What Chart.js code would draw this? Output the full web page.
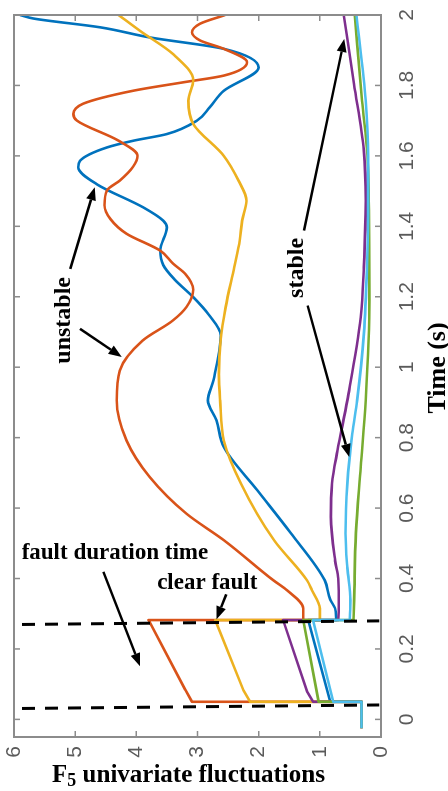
<!DOCTYPE html>
<html>
<head>
<meta charset="utf-8">
<script src="https://cdn.jsdelivr.net/npm/chart.js@4.4.1/dist/chart.umd.min.js"></script>
<style>
  html, body { margin: 0; padding: 0; background: #fff; }
  #wrap { position: relative; width: 448px; height: 791px; overflow: hidden; }
  /* the figure is a time plot turned a quarter turn to the left */
  #chart { position: absolute; left: 0; top: 0; transform-origin: 0 0; transform: translateY(791px) rotate(-90deg); }
</style>
</head>
<body>
<div id="wrap"><canvas id="chart" width="791" height="448"></canvas></div>
<script>
// axis ticks
const timeTicks = [0, 0.2, 0.4, 0.6, 0.8, 1, 1.2, 1.4, 1.6, 1.8, 2];
const f5Ticks = [0, 1, 2, 3, 4, 5, 6];

// [time, F5] before the fault, same for every case
const preFault = [[-0.025, 0.32], [0.05, 0.32]];

// [time, F5] during the fault (0.05 s .. 0.282 s)
const faultBlue = [[0.05, 0.83], [0.282, 1.19]];
const faultOrange = [[0.05, 3.09], [0.084, 3.20], [0.282, 3.80]];
const faultYellow = [[0.05, 2.14], [0.083, 2.25], [0.282, 2.71]];
const faultPurple = [[0.05, 1.11], [0.08, 1.21], [0.282, 1.60]];
const faultGreen = [[0.05, 1.02], [0.282, 1.27]];
const faultCyan = [[0.05, 0.78], [0.282, 1.11]];

// [time, F5] after the fault is cleared
const postBlue = [[0.282,0.73],[0.315,0.75],[0.34,0.83],[0.395,0.92],[0.53,1.48],[0.65,2.02],[0.773,2.57],[0.849,2.69],[0.906,2.83],[0.963,2.74],[1.09,2.62],[1.15,2.82],[1.199,3.07],[1.25,3.38],[1.29,3.56],[1.331,3.61],[1.397,3.50],[1.416,3.56],[1.454,3.89],[1.52,4.65],[1.568,4.95],[1.586,4.92],[1.624,4.48],[1.643,4.05],[1.662,3.50],[1.70,3.01],[1.738,2.80],[1.785,2.57],[1.851,2.0],[1.904,2.57],[1.936,3.77],[1.965,4.59],[1.99,5.68],[2.0,5.9]];
const postOrange = [[0.282,1.27],[0.315,1.27],[0.367,1.54],[0.395,1.76],[0.509,2.57],[0.584,3.18],[0.688,3.78],[0.792,4.16],[0.906,4.32],[0.99,4.27],[1.075,3.9],[1.133,3.40],[1.171,3.18],[1.22,3.07],[1.265,3.2],[1.294,3.40],[1.331,3.61],[1.379,4.16],[1.42,4.42],[1.46,4.52],[1.502,4.48],[1.53,4.27],[1.57,4.05],[1.6,3.98],[1.644,4.3],[1.70,4.97],[1.719,5.03],[1.748,4.87],[1.785,4.05],[1.809,3.23],[1.828,2.57],[1.866,2.19],[1.904,2.57],[1.928,2.96],[1.951,3.09],[1.975,2.96],[2.0,2.55]];
const postYellow = [[0.282,1.0],[0.315,1.0],[0.367,1.13],[0.395,1.21],[0.509,1.75],[0.67,2.29],[0.792,2.57],[0.906,2.63],[0.98,2.65],[1.08,2.62],[1.17,2.54],[1.284,2.40],[1.36,2.31],[1.416,2.27],[1.472,2.2],[1.53,2.33],[1.6,2.57],[1.691,3.07],[1.757,3.15],[1.814,3.07],[1.889,3.40],[1.955,3.94],[2.0,4.29]];
const postPurple = [[0.282,0.70],[0.315,0.69],[0.40,0.70],[0.45,0.75],[0.575,0.82],[0.67,0.80],[0.764,0.71],[0.906,0.55],[1.142,0.33],[1.284,0.28],[1.472,0.25],[1.615,0.28],[1.804,0.44],[2.0,0.61]];
const postGreen = [[0.282,0.45],[0.338,0.44],[0.528,0.41],[0.717,0.33],[0.906,0.25],[1.19,0.19],[1.472,0.20],[1.6,0.22],[1.757,0.31],[2.0,0.43]];
const postCyan = [[0.282,0.51],[0.338,0.50],[0.43,0.55],[0.528,0.58],[0.67,0.55],[0.811,0.47],[0.906,0.39],[1.095,0.28],[1.284,0.23],[1.472,0.21],[1.6,0.21],[1.757,0.25],[2.0,0.40]];

// hand drawn dashed markers at fault start / clear: [time, F5]
const dashStart = [[0.031, 5.87], [0.041, 0.03]];
const dashClear = [[0.2695, 5.87], [0.2797, 0.03]];

// notes and arrows, in data units (time, F5)
const notes = [
  {text: 'unstable', t: 1.133, f: 5.18, turn: false},
  {text: 'stable', t: 1.282, f: 1.38, turn: false},
  {text: 'fault duration time', t: 0.472, f: 4.35, turn: true},
  {text: 'clear fault', t: 0.387, f: 2.84, turn: true}
];
const arrows = [
  [1.279, 5.08, 1.511, 4.68],
  [1.109, 4.92, 1.029, 4.24],
  [1.388, 1.26, 1.932, 0.60],
  [1.175, 1.20, 0.745, 0.52],
  [0.419, 4.54, 0.151, 3.94],
  [0.355, 2.53, 0.284, 2.69]
];

const axisGray = '#8c8c8c';
const serif = '"Liberation Serif", "Times New Roman", serif';

function pts(list) {
    return list.map(p => ({x: p[0], y: p[1]}));
}

// MATLAB default line colours, first one drawn at the bottom
const series = [
    {color: '#0072BD', fault: faultBlue, post: postBlue},
    {color: '#D95319', fault: faultOrange, post: postOrange},
    {color: '#EDB120', fault: faultYellow, post: postYellow},
    {color: '#7E2F8E', fault: faultPurple, post: postPurple},
    {color: '#77AC30', fault: faultGreen, post: postGreen},
    {color: '#4DBEEE', fault: faultCyan, post: postCyan}
];

let datasets = [];
series.forEach((s, i) => {
    // straight part: steady state, fault ramp, jump at clearing
    datasets.push({
        data: pts(preFault.concat(s.fault, [s.post[0]])),
        borderColor: s.color, borderWidth: 2.6, pointRadius: 0,
        showLine: true, tension: 0, borderJoinStyle: 'round',
        order: 20 - i
    });
    // smooth swing after the fault
    datasets.push({
        data: pts(s.post),
        borderColor: s.color, borderWidth: 2.6, pointRadius: 0,
        showLine: true, cubicInterpolationMode: 'monotone',
        order: 20 - i
    });
});
[dashStart, dashClear].forEach(d => {
    datasets.push({
        data: pts(d), borderColor: '#000', borderWidth: 3, borderDash: [13, 10],
        pointRadius: 0, showLine: true, tension: 0, order: 0
    });
});

function arrow(ctx, x1, y1, x2, y2) {
    const a = Math.atan2(y2 - y1, x2 - x1);
    const len = 13, half = 5;
    const bx = x2 - len * Math.cos(a), by = y2 - len * Math.sin(a);
    ctx.beginPath();
    ctx.moveTo(x1, y1);
    ctx.lineTo(bx, by);
    ctx.stroke();
    ctx.beginPath();
    ctx.moveTo(x2, y2);
    ctx.lineTo(bx + half * Math.sin(a), by - half * Math.cos(a));
    ctx.lineTo(bx - half * Math.sin(a), by + half * Math.cos(a));
    ctx.closePath();
    ctx.fill();
}

const deco = {
    id: 'deco',
    afterDatasetsDraw(chart) {
        const ctx = chart.ctx;
        const a = chart.chartArea;
        const x = chart.scales.x, y = chart.scales.y;
        ctx.save();

        // box with inward ticks on all sides
        ctx.strokeStyle = axisGray;
        ctx.lineWidth = 2;
        ctx.strokeRect(a.left, a.top, a.right - a.left, a.bottom - a.top);
        ctx.lineWidth = 1.5;
        ctx.beginPath();
        for (const v of timeTicks) {
            const px = x.getPixelForValue(v);
            ctx.moveTo(px, a.bottom); ctx.lineTo(px, a.bottom - 6);
            ctx.moveTo(px, a.top); ctx.lineTo(px, a.top + 6);
        }
        for (const v of f5Ticks) {
            const py = y.getPixelForValue(v);
            ctx.moveTo(a.left, py); ctx.lineTo(a.left + 6, py);
            ctx.moveTo(a.right, py); ctx.lineTo(a.right - 6, py);
        }
        ctx.stroke();

        // arrows
        ctx.strokeStyle = '#000';
        ctx.fillStyle = '#000';
        ctx.lineWidth = 2.5;
        for (const r of arrows) {
            arrow(ctx, x.getPixelForValue(r[0]), y.getPixelForValue(r[1]),
                x.getPixelForValue(r[2]), y.getPixelForValue(r[3]));
        }

        // notes
        ctx.textAlign = 'center';
        ctx.textBaseline = 'middle';
        for (const n of notes) {
            const px = x.getPixelForValue(n.t), py = y.getPixelForValue(n.f);
            ctx.save();
            ctx.translate(px, py);
            if (n.turn) {
                ctx.rotate(Math.PI / 2);
                ctx.font = 'bold 23px ' + serif;
            } else {
                ctx.font = 'bold 24px ' + serif;
            }
            ctx.fillText(n.text, 0, 0);
            ctx.restore();
        }

        // axis titles
        ctx.font = 'bold 26px ' + serif;
        ctx.fillText('Time (s)', (a.left + a.right) / 2 + 8, a.bottom + 57);

        ctx.save();
        ctx.translate(a.left - 39, (a.top + a.bottom) / 2 - 9);
        ctx.rotate(Math.PI / 2);
        const big = 'bold 25px ' + serif, small = 'bold 18px ' + serif;
        ctx.font = big;
        const wF = ctx.measureText('F').width;
        const rest = ' univariate fluctuations';
        const wR = ctx.measureText(rest).width;
        ctx.font = small;
        const w5 = ctx.measureText('5').width;
        let s = -(wF + w5 + wR) / 2;
        ctx.textAlign = 'left';
        ctx.font = big; ctx.fillText('F', s, 0);
        ctx.font = small; ctx.fillText('5', s + wF, 5);
        ctx.font = big; ctx.fillText(rest, s + wF + w5, 0);
        ctx.restore();

        ctx.restore();
    }
};

const tickFont = {family: '"Liberation Sans", Arial, sans-serif', size: 21};

const config = {
    type: 'scatter',
    data: {datasets: datasets},
    plugins: [deco],
    options: {
        responsive: false,
        animation: false,
        devicePixelRatio: 1,
        layout: {padding: {left: 0, right: 15, top: 14, bottom: 0}},
        scales: {
            x: {
                type: 'linear', position: 'bottom', min: -0.05, max: 2,
                grid: {display: false, drawTicks: false},
                border: {display: false},
                afterBuildTicks: s => { s.ticks = timeTicks.map(v => ({value: v})); },
                afterFit: s => { s.height = 67; s.paddingLeft = 0; s.paddingRight = 0; },
                ticks: {
                    autoSkip: false, maxRotation: 0, padding: 14,
                    color: '#5a5a5a', font: tickFont,
                    callback: v => String(+v.toFixed(1))
                }
            },
            y: {
                type: 'linear', position: 'left', min: 0, max: 6,
                grid: {display: false, drawTicks: false},
                border: {display: false},
                afterBuildTicks: s => { s.ticks = f5Ticks.map(v => ({value: v})); },
                afterFit: s => { s.width = 54; s.paddingTop = 0; s.paddingBottom = 0; },
                ticks: {
                    autoSkip: false, padding: 9,
                    color: '#5a5a5a', font: tickFont,
                    callback: v => String(v)
                }
            }
        },
        plugins: {
            legend: {display: false},
            tooltip: {enabled: false}
        }
    }
};

const myChart = new Chart(document.getElementById('chart'), config);
</script>
</body>
</html>
